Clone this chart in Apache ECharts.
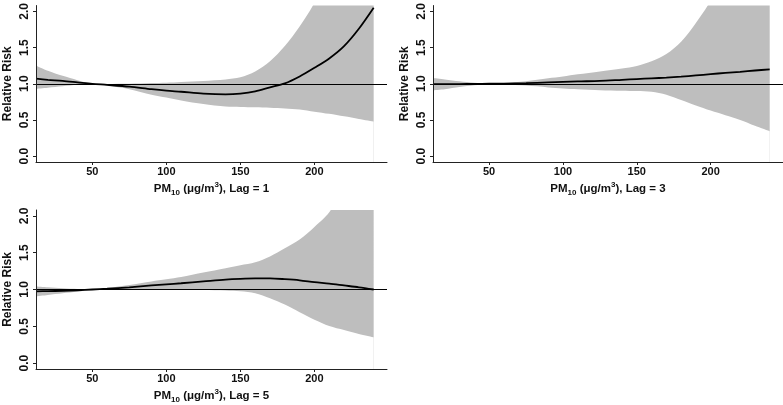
<!DOCTYPE html>
<html>
<head>
<meta charset="utf-8">
<script src="https://cdn.jsdelivr.net/npm/echarts@6/dist/echarts.min.js"></script>
<style>html,body{margin:0;padding:0;background:#fff}#c{width:783px;height:405px}</style>
</head>
<body>
<div id="c"></div>
<script>
const xValues = [12,20,30,40,50,60,75,90,100,110,125,140,150,160,170,180,190,200,210,220,230,240];

const lag1RR    = [1.07,1.055,1.04,1.02,1.0,0.985,0.96,0.925,0.905,0.89,0.865,0.855,0.865,0.895,0.95,1.005,1.10,1.22,1.35,1.52,1.76,2.05];
const lag1Lower = [0.93,0.945,0.965,0.985,0.997,0.975,0.925,0.85,0.81,0.77,0.72,0.685,0.68,0.675,0.67,0.66,0.645,0.615,0.585,0.55,0.515,0.48];
const lag1Upper = [1.25,1.18,1.11,1.05,1.003,0.998,1.0,1.01,1.015,1.025,1.04,1.06,1.09,1.17,1.31,1.52,1.79,2.12,2.6,3.1,3.7,4.4];

const lag3RR    = [0.995,0.995,0.996,0.998,1.0,1.002,1.008,1.018,1.025,1.032,1.04,1.055,1.065,1.075,1.085,1.098,1.115,1.133,1.15,1.165,1.183,1.20];
const lag3Lower = [0.91,0.925,0.955,0.98,0.998,0.99,0.975,0.95,0.935,0.925,0.912,0.905,0.90,0.89,0.85,0.775,0.70,0.63,0.565,0.50,0.42,0.345];
const lag3Upper = [1.08,1.06,1.035,1.015,1.002,1.01,1.035,1.075,1.10,1.13,1.17,1.21,1.245,1.31,1.41,1.58,1.84,2.15,2.6,3.1,3.7,4.3];

const lag5RR    = [0.975,0.978,0.982,0.99,1.0,1.01,1.03,1.055,1.07,1.085,1.11,1.135,1.145,1.15,1.15,1.14,1.125,1.10,1.08,1.055,1.03,1.0];
const lag5Lower = [0.907,0.925,0.948,0.972,0.998,1.0,1.005,1.0,0.998,0.996,0.992,0.985,0.975,0.95,0.88,0.795,0.69,0.59,0.505,0.45,0.395,0.35];
const lag5Upper = [1.04,1.03,1.018,1.008,1.002,1.02,1.062,1.11,1.138,1.17,1.23,1.29,1.33,1.37,1.45,1.56,1.68,1.85,2.05,2.4,2.8,3.4];

const xTicks = [50,100,150,200];
const yTicks = [0,0.5,1,1.5,2];
const lags = ['1','3','5'];

const panels = [
  {rr: lag1RR, lo: lag1Lower, up: lag1Upper},
  {rr: lag3RR, lo: lag3Lower, up: lag3Upper},
  {rr: lag5RR, lo: lag5Lower, up: lag5Upper}
];

const font = 'Liberation Sans, Arial, Helvetica, sans-serif';
const grids = [
  {left: 36, top: 0, width: 351, height: 162},
  {left: 433, top: 0, width: 350, height: 162},
  {left: 36, top: 210, width: 351, height: 162}
];

const xAxes = [], yAxes = [], series = [];
panels.forEach((p, i) => {
  xAxes.push({
    type: 'value', gridIndex: i, min: 12, max: 249, z: 10,
    axisLine: {show: true, onZero: false, lineStyle: {color: '#222', width: 1}},
    axisTick: {show: true, customValues: xTicks, length: 3, lineStyle: {color: '#222'}},
    axisLabel: {customValues: xTicks, fontSize: 11, fontWeight: 'bold', color: '#111', margin: 4, fontFamily: font},
    splitLine: {show: false},
    name: '{b|PM}{sub|10}{b| (μg/m}{sup|3}{b|), Lag = ' + lags[i] + '}',
    nameLocation: 'middle', nameGap: 19,
    nameTextStyle: {
      fontFamily: font,
      rich: {
        b: {fontSize: 11.5, fontWeight: 'bold', color: '#111', fontFamily: font, lineHeight: 16, verticalAlign: 'middle'},
        sub: {fontSize: 8, fontWeight: 'bold', color: '#111', fontFamily: font, lineHeight: 16, verticalAlign: 'bottom'},
        sup: {fontSize: 8, fontWeight: 'bold', color: '#111', fontFamily: font, lineHeight: 16, verticalAlign: 'top'}
      }
    }
  });
  yAxes.push({
    type: 'value', gridIndex: i, min: -0.08, max: 2.08, z: 10,
    axisLine: {show: true, onZero: false, lineStyle: {color: '#222', width: 1}},
    axisTick: {show: true, customValues: yTicks, length: 3, lineStyle: {color: '#222'}},
    axisLabel: {customValues: yTicks, rotate: 90, fontSize: 12, fontWeight: 'bold', color: '#111', margin: 5, fontFamily: font,
      formatter: v => v.toFixed(1)},
    splitLine: {show: false},
    name: 'Relative Risk', nameLocation: 'middle', nameGap: 22,
    nameTextStyle: {fontSize: 12, fontWeight: 'bold', color: '#111', fontFamily: font}
  });
  // upper confidence limit: grey area down to the axis
  series.push({
    type: 'line', xAxisIndex: i, yAxisIndex: i, smooth: 0.3,
    symbol: 'none', lineStyle: {width: 0, opacity: 0}, silent: true,
    areaStyle: {color: '#bebebe', opacity: 1, origin: 'start'},
    data: xValues.map((x, k) => [x, p.up[k]]), z: 1
  });
  // lower confidence limit: white area masks below the band
  series.push({
    type: 'line', xAxisIndex: i, yAxisIndex: i, smooth: 0.3,
    symbol: 'none', lineStyle: {width: 0, opacity: 0}, silent: true,
    areaStyle: {color: '#ffffff', opacity: 1, origin: 'start'},
    data: xValues.map((x, k) => [x, p.lo[k]]), z: 2
  });
  series.push({
    type: 'line', xAxisIndex: i, yAxisIndex: i, smooth: 0.3,
    symbol: 'none', lineStyle: {color: '#000', width: 1.8}, silent: true,
    data: xValues.map((x, k) => [x, p.rr[k]]), z: 4,
    markLine: {silent: true, symbol: 'none', label: {show: false},
      lineStyle: {color: '#000', width: 1, type: 'solid'},
      data: [{yAxis: 1}], animation: false}
  });
});

const chart = echarts.init(document.getElementById('c'), null, {renderer: 'canvas'});
chart.setOption({
  backgroundColor: '#fff',
  animation: false,
  grid: grids,
  xAxis: xAxes,
  yAxis: yAxes,
  series: series
});
</script>
</body>
</html>
